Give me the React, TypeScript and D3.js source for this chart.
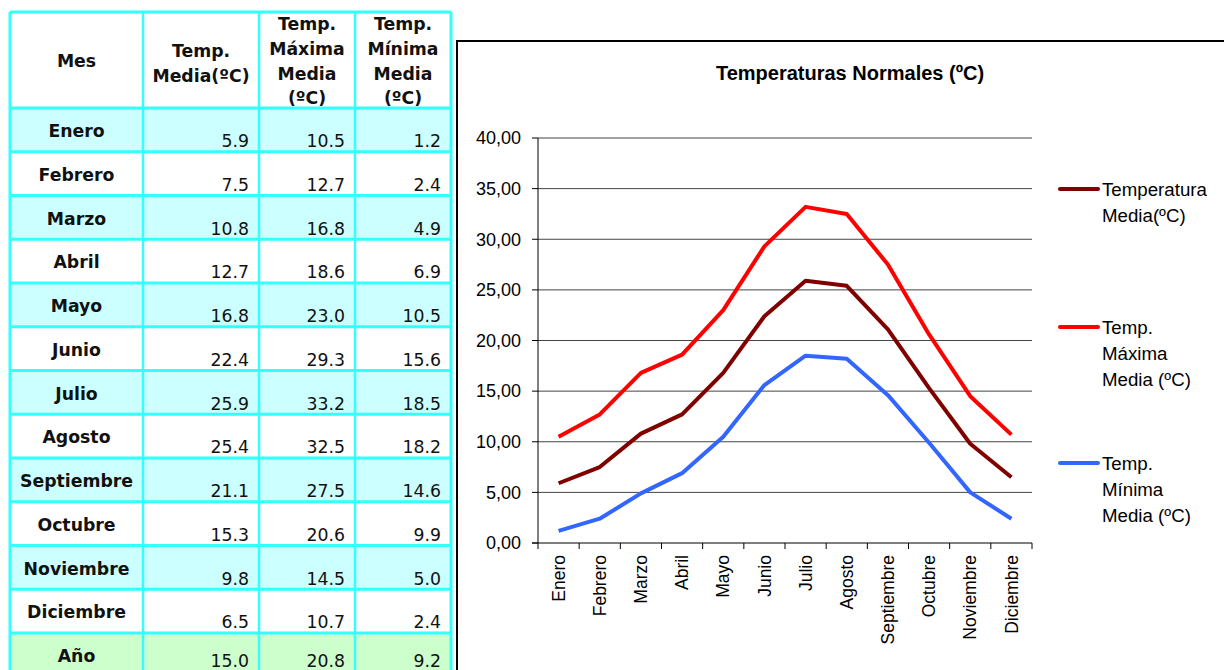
import React from "react";
import * as d3 from "d3";

const months = ["Enero","Febrero","Marzo","Abril","Mayo","Junio","Julio","Agosto","Septiembre","Octubre","Noviembre","Diciembre"];
const tempMedia = [5.9,7.5,10.8,12.7,16.8,22.4,25.9,25.4,21.1,15.3,9.8,6.5];
const tempMaxima = [10.5,12.7,16.8,18.6,23.0,29.3,33.2,32.5,27.5,20.6,14.5,10.7];
const tempMinima = [1.2,2.4,4.9,6.9,10.5,15.6,18.5,18.2,14.6,9.9,5.0,2.4];
const yearLabel = "Año";
const yearValues = [15.0, 20.8, 9.2];
const yTicks = [0,5,10,15,20,25,30,35,40];
const tableHeaders = [["Mes"],["Temp.","Media(ºC)"],["Temp.","Máxima","Media","(ºC)"],["Temp.","Mínima","Media","(ºC)"]];
const chartTitle = "Temperaturas Normales (ºC)";
const seriesNames = [["Temperatura","Media(ºC)"],["Temp.","Máxima","Media (ºC)"],["Temp.","Mínima","Media (ºC)"]];
const seriesColors = ["#800000","#ff0000","#3366ff"];

export default function App() {
  const W = 1224, H = 670;
  const colX = [10, 143, 259, 355, 451];
  const tTop = 12, hdrBottom = 108, rowH = 43.75;
  const cyan = "#33ffff";
  const tableFont = "'DejaVu Sans', Verdana, sans-serif";
  const chartFont = "'Liberation Sans', Arial, sans-serif";

  const rows = months.map((m, i) => ({ name: m, vals: [tempMedia[i], tempMaxima[i], tempMinima[i]], fill: i % 2 === 0 ? "#ccffff" : "#ffffff" }));
  rows.push({ name: yearLabel, vals: yearValues, fill: "#ccffcc" });

  const x = d3.scaleBand<string>().domain(months).range([538, 1032]);
  const y = d3.scaleLinear().domain([0, 40]).range([543, 138]);
  const series = [tempMedia, tempMaxima, tempMinima];
  const line = d3.line<number>().x((_, i) => (x(months[i]) as number) + x.bandwidth() / 2).y(d => y(d));

  const headerBaselines: Record<number, number[]> = {
    1: [67],
    2: [57, 82],
    4: [30, 55, 80, 104],
  };

  return (
    <svg width={W} height={H} style={{ position: "absolute", left: 0, top: 0, background: "#fff" }}>
      <g fontFamily={tableFont} fontSize={17.3}>
        <rect x={colX[0]} y={tTop} width={colX[4] - colX[0]} height={hdrBottom - tTop} fill="#fff" />
        {rows.map((r, i) => (
          <rect key={"bg" + i} x={colX[0]} y={hdrBottom + i * rowH} width={colX[4] - colX[0]} height={rowH + (i === rows.length - 1 ? 20 : 0)} fill={r.fill} />
        ))}
        {colX.map((cx, i) => (
          <line key={"v" + i} x1={cx} x2={cx} y1={tTop} y2={H} stroke={cyan} strokeWidth={i === 0 || i === 4 ? 3 : 2.5} />
        ))}
        <line x1={colX[0]} x2={colX[4]} y1={tTop} y2={tTop} stroke={cyan} strokeWidth={3} />
        {rows.map((_, i) => (
          <line key={"h" + i} x1={colX[0]} x2={colX[4]} y1={hdrBottom + i * rowH} y2={hdrBottom + i * rowH} stroke={cyan} strokeWidth={3} />
        ))}
        {tableHeaders.map((h, ci) => {
          const bl = headerBaselines[h.length];
          const cx = (colX[ci] + colX[ci + 1]) / 2;
          return h.map((t, li) => (
            <text key={"hd" + ci + "-" + li} x={cx} y={bl[li]} textAnchor="middle" fontWeight="bold" fill="#111">{t}</text>
          ));
        })}
        {rows.map((r, i) => {
          const top = hdrBottom + i * rowH;
          return (
            <g key={"r" + i}>
              <text x={(colX[0] + colX[1]) / 2} y={top + 29} textAnchor="middle" fontWeight="bold" fill="#111">{r.name}</text>
              {r.vals.map((v, j) => (
                <text key={j} x={colX[j + 2] - 10} y={Math.min(top + 39, 667)} textAnchor="end" fill="#111">{v.toFixed(1)}</text>
              ))}
            </g>
          );
        })}
      </g>

      <rect x={457} y={41} width={W} height={H} fill="#fff" stroke="#000" strokeWidth={2} />

      <g fontFamily={chartFont}>
        <text x={850} y={80} textAnchor="middle" fontWeight="bold" fontSize={20} fill="#000">{chartTitle}</text>

        {yTicks.map(t => (
          <g key={"g" + t}>
            {t > 0 && <line x1={538} x2={1032} y1={y(t)} y2={y(t)} stroke="#444" strokeWidth={1} />}
            <line x1={532} x2={538} y1={y(t)} y2={y(t)} stroke="#000" strokeWidth={1} />
            <text x={521} y={y(t)} dy="0.35em" textAnchor="end" fontSize={18} fill="#000">{d3.format(".2f")(t).replace(".", ",")}</text>
          </g>
        ))}
        <line x1={538} x2={538} y1={138} y2={543} stroke="#000" strokeWidth={1} />
        <line x1={532} x2={1032} y1={543} y2={543} stroke="#000" strokeWidth={1} />
        {months.map((m, i) => (
          <line key={"xt" + i} x1={(x(m) as number)} x2={(x(m) as number)} y1={543} y2={549} stroke="#000" strokeWidth={1} />
        ))}
        <line x1={1032} x2={1032} y1={543} y2={549} stroke="#000" strokeWidth={1} />
        {months.map(m => {
          const cx = (x(m) as number) + x.bandwidth() / 2;
          return (
            <text key={"xl" + m} transform={`translate(${cx},555) rotate(-90)`} dy="0.35em" textAnchor="end" fontSize={17.5} fill="#000">{m}</text>
          );
        })}

        {series.map((s, i) => (
          <path key={"s" + i} d={line(s) || ""} fill="none" stroke={seriesColors[i]} strokeWidth={4} strokeLinejoin="round" />
        ))}

        {seriesNames.map((lines, i) => {
          const ly = [189, 327, 463][i];
          return (
            <g key={"lg" + i}>
              <line x1={1060} x2={1098} y1={ly} y2={ly} stroke={seriesColors[i]} strokeWidth={4} strokeLinecap="round" />
              {lines.map((t, li) => (
                <text key={li} x={1102} y={ly + li * 26} dy="0.35em" fontSize={18.7} fill="#000">{t}</text>
              ))}
            </g>
          );
        })}
      </g>
    </svg>
  );
}
